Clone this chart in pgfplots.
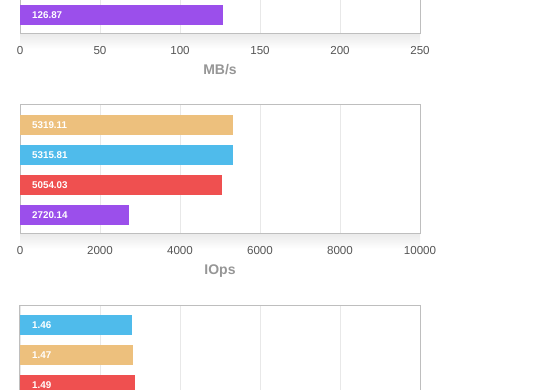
\documentclass[border=0pt]{standalone}
\usepackage{fontspec}
\setmainfont{Liberation Sans}
\usepackage{pgfplots}
\pgfplotsset{compat=1.18}
\definecolor{corange}{RGB}{237,192,125}
\definecolor{cblue}{RGB}{79,187,235}
\definecolor{cred}{RGB}{239,80,80}
\definecolor{cpurple}{RGB}{155,79,235}
\definecolor{gridc}{RGB}{232,232,232}
\definecolor{axisc}{RGB}{190,190,190}
\definecolor{tickc}{RGB}{85,85,85}
\definecolor{labc}{RGB}{150,150,150}
\pgfplotsset{
  panel/.style={
    width=400pt, height=129pt, scale only axis,
    ymin=-0.64, ymax=3.66, ytick=\empty,
    xmin=0, clip=false,
    xmajorgrids, major grid style={draw=gridc, line width=0.8pt},
    axis line style={draw=axisc, line width=1pt},
    tick style={draw=none},
    scaled x ticks=false,
    /pgf/number format/assume math mode=true,
    /pgf/number format/set thousands separator={},
    xticklabel style={font=\fontsize{11.6}{12}\selectfont, text=tickc, anchor=base, yshift=-20.3pt, inner sep=0pt},
    every axis x label/.style={at={(axis description cs:0.5,0)}, anchor=base, yshift=-41pt, font=\bfseries\fontsize{14}{16}\selectfont, text=labc},
  },
  bb/.style={xbar, bar width=20pt, bar shift=0pt, draw=none, fill=#1},
  lbl/.style={draw=none, mark=none, nodes near coords, point meta=explicit symbolic,
    every node near coord/.append style={anchor=west, xshift=12pt, inner sep=0pt, text=white, font=\bfseries\fontsize{9.8}{11}\selectfont}},
}
\begin{document}
\begin{tikzpicture}
\useasboundingbox (0,0) rectangle (560pt,390pt);
\clip (0,0) rectangle (560pt,390pt);
% shadows
\foreach \yy in {356,156,-44}{
  \fill[top color=black!8, bottom color=white] (20pt,\yy pt-15pt) rectangle (420pt,\yy pt);
}
% top panel (MB/s)
\begin{axis}[panel, at={(20pt,356pt)}, anchor=south west, xmax=250, xtick={0,50,100,150,200,250}, xlabel={MB/s}]
\addplot[bb=cpurple] coordinates {(126.87,0)};
\addplot[lbl] coordinates {(0,0) [126.87]};
\end{axis}
% middle panel (IOps)
\begin{axis}[panel, at={(20pt,156pt)}, anchor=south west, xmax=10000, xtick={0,2000,4000,6000,8000,10000}, xlabel={IOps}]
\addplot[bb=corange] coordinates {(5319.11,3)};
\addplot[bb=cblue] coordinates {(5315.81,2)};
\addplot[bb=cred] coordinates {(5054.03,1)};
\addplot[bb=cpurple] coordinates {(2720.14,0)};
\addplot[lbl] coordinates {(0,3) [5319.11] (0,2) [5315.81] (0,1) [5054.03] (0,0) [2720.14]};
\end{axis}
% bottom panel
\begin{axis}[panel, at={(20pt,-44pt)}, anchor=south west, xmax=5.2, xtick={0,1.04,2.08,3.12,4.16,5.2}, xticklabels={}]
\addplot[bb=cblue] coordinates {(1.46,3)};
\addplot[bb=corange] coordinates {(1.47,2)};
\addplot[bb=cred] coordinates {(1.49,1)};
\addplot[lbl] coordinates {(0,3) [1.46] (0,2) [1.47] (0,1) [1.49]};
\end{axis}
\end{tikzpicture}
\end{document}
